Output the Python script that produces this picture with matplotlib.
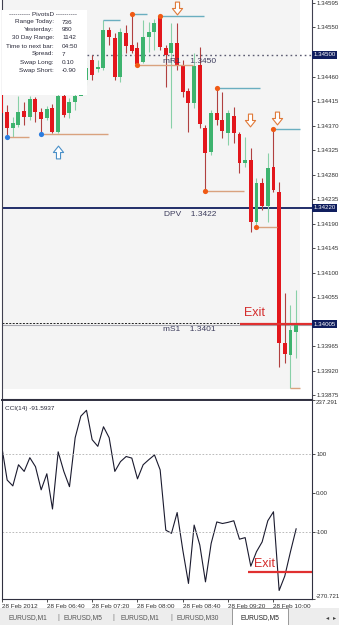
import matplotlib
matplotlib.use("Agg")
import matplotlib.pyplot as plt
import matplotlib.transforms as mtransforms
from matplotlib.patches import Rectangle
from matplotlib.path import Path
import numpy as np

plt.rcParams["font.family"] = ["Liberation Sans", "DejaVu Sans"]

W, H = 339, 625

# ---- EURUSD M5, 28 Feb 2012, bars from 06:00 to 10:20 ----
opens = [1.34439, 1.34395, 1.34365, 1.34371, 1.34397, 1.34386, 1.34419, 1.34395, 1.34384, 1.34402,
         1.34358, 1.34424, 1.34393, 1.34413, 1.34424, 1.34454, 1.34490, 1.34474, 1.34476, 1.34545,
         1.34531, 1.34459, 1.34540, 1.34518, 1.34512, 1.34487, 1.34533, 1.34542, 1.34569, 1.34512,
         1.34503, 1.34522, 1.34481, 1.34433, 1.34411, 1.34481, 1.34365, 1.34321, 1.34393, 1.34380,
         1.34356, 1.34387, 1.34354, 1.34301, 1.34307, 1.34193, 1.34264, 1.34222, 1.34294, 1.34248,
         1.33971, 1.33949, 1.33991]
highs = [1.34444, 1.34408, 1.34386, 1.34424, 1.34413, 1.34424, 1.34422, 1.34402, 1.34406, 1.34410,
         1.34430, 1.34430, 1.34421, 1.34435, 1.34463, 1.34490, 1.34500, 1.34490, 1.34564, 1.34551,
         1.34540, 1.34549, 1.34555, 1.34574, 1.34523, 1.34564, 1.34560, 1.34566, 1.34571, 1.34518,
         1.34558, 1.34558, 1.34490, 1.34439, 1.34503, 1.34514, 1.34371, 1.34399, 1.34438, 1.34432,
         1.34399, 1.34404, 1.34358, 1.34349, 1.34329, 1.34274, 1.34274, 1.34319, 1.34363, 1.34266,
         1.34062, 1.34040, 1.34068]
lows = [1.34384, 1.34349, 1.34349, 1.34367, 1.34371, 1.34380, 1.34376, 1.34355, 1.34380, 1.34356,
        1.34356, 1.34386, 1.34384, 1.34399, 1.34428, 1.34444, 1.34454, 1.34468, 1.34472, 1.34518,
        1.34454, 1.34450, 1.34503, 1.34503, 1.34481, 1.34485, 1.34505, 1.34509, 1.34509, 1.34441,
        1.34365, 1.34472, 1.34422, 1.34358, 1.34402, 1.34365, 1.34250, 1.34316, 1.34371, 1.34347,
        1.34334, 1.34338, 1.34283, 1.34294, 1.34174, 1.34184, 1.34215, 1.34193, 1.34248, 1.33926,
        1.33934, 1.33888, 1.33943]
closes = [1.34393, 1.34365, 1.34375, 1.34395, 1.34386, 1.34419, 1.34395, 1.34382, 1.34400, 1.34358,
          1.34424, 1.34389, 1.34413, 1.34424, 1.34454, 1.34476, 1.34463, 1.34477, 1.34545, 1.34533,
          1.34459, 1.34542, 1.34516, 1.34507, 1.34483, 1.34533, 1.34542, 1.34558, 1.34514, 1.34500,
          1.34522, 1.34479, 1.34432, 1.34411, 1.34479, 1.34373, 1.34319, 1.34393, 1.34380, 1.34360,
          1.34393, 1.34356, 1.34301, 1.34307, 1.34193, 1.34264, 1.34222, 1.34292, 1.34252, 1.33971,
          1.33950, 1.33994, 1.34007]

cci = [123, 33, 18, 72, 55, 90, 67, 8, 49, -41,
       105, 55, 16, 141, 196, 211, 136, 119, 169, 141,
       55, 80, 93, 89, 36, 72, 85, 97, 59, -95,
       -103, -50, -146, -231, -82, -133, -227, -129, -74, -78,
       -75, -71, -118, -114, -187, -150, -125, -71, -48, -249,
       -212, -150, -91.59]

# swing markers (bar index, price, end of the horizontal line)
hi_dot_bars = [23, 28, 38, 48]
hi_dot_prices = [1.34574, 1.34571, 1.34438, 1.34363]
hi_line_ends = [25.7, 35.7, 45.6, 52.7]
lo_dot_bars = [24, 36, 45]
lo_dot_prices = [1.34481, 1.34250, 1.34184]
lo_line_ends = [33.8, 42.8, 48.6]
blue_dot_bars = [1, 7]
blue_dot_prices = [1.34349, 1.34355]
blue_line_ends = [4.9, 18.8]

down_arrow_bars = [31, 43.8, 48.7]
down_arrow_prices = [1.34585, 1.34380, 1.34384]
up_arrow_bars = [10]
up_arrow_prices = [1.34322]

# pivot levels
mR1, DPV, mS1, BID = 1.34500, 1.34219, 1.34003, 1.34008
EXIT_PRICE = 1.34005
EXIT_CCI = -202

price_ticks = [1.34595, 1.34550, 1.34505, 1.34460, 1.34415, 1.34370, 1.34325, 1.34280,
               1.34235, 1.34190, 1.34145, 1.34100, 1.34055, 1.34010, 1.33965, 1.33920, 1.33875]
# these two grid labels sit under the highlighted level boxes
hidden_ticks = [1.34505, 1.34010]
cci_ticks = [237.291, 100, 0, -100, -270.721]
cci_tick_labels = ["237.291", "100", "0.00", "-100", "-270.721"]
time_ticks = [0, 8, 16, 24, 32, 40, 48]
time_labels = ["28 Feb 2012", "28 Feb 06:40", "28 Feb 07:20", "28 Feb 08:00",
               "28 Feb 08:40", "28 Feb 09:20", "28 Feb 10:00"]

info_keys = ["Range Today:", "Yesterday:", "30 Day Range:", "Time to next bar:",
             "Spread:", "Swap Long:", "Swap Short:"]
info_vals = ["736", "980", "1142", "04:50", "7", "0.10", "-0.90"]

tabs = ["EURUSD,M1", "EURUSD,M5", "EURUSD,M1", "EURUSD,M30"]
active_tab = "EURUSD,M5"

RED, GREEN = "#e3161c", "#3db36e"
RED_WICK, GREEN_WICK = "#b04040", "#88d0a8"
ORANGE, BLUE = "#f05a14", "#2b7de0"
TEAL, TAN = "#6aaec0", "#d9a27e"
NAVY = "#101e5e"
TXT = "#2a2a3a"


def fx(px):
    return px / W


def fy(py):
    return 1 - py / H


fig = plt.figure(figsize=(W / 100, H / 100), dpi=100)
fig.patch.set_facecolor("white")

ax = fig.add_axes([fx(1.5), fy(399), fx(312) - fx(1.5), 399 / H])
ax2 = fig.add_axes([fx(1.5), fy(599), fx(312) - fx(1.5), 199 / H])

XL = (0.035, 54.8)

# ---- main price panel ----------------------------------------------------
ax.set_xlim(*XL)
ax.set_ylim(1.338677, 1.346005)
ax.set_facecolor("white")
ax.add_patch(Rectangle((0, 1 - 389 / 399), (300 - 1.5) / 310.5, 389 / 399,
                       transform=ax.transAxes, fc="#f4f4f4", ec="none", zorder=0))

o, h, l, c = map(np.array, (opens, highs, lows, closes))
x = np.arange(len(o))
up = c >= o
ax.vlines(x[up], l[up], h[up], color=GREEN_WICK, lw=0.8, zorder=2)
ax.vlines(x[~up], l[~up], h[~up], color=RED_WICK, lw=0.8, zorder=2)
lo_b = np.minimum(o, c)
hb = np.maximum(np.abs(c - o), 0.00003)
ax.bar(x[up], hb[up], bottom=lo_b[up], width=0.68, color=GREEN, lw=0, zorder=3)
ax.bar(x[~up], hb[~up], bottom=lo_b[~up], width=0.68, color=RED, lw=0, zorder=3)

# levels
ax.axhline(mR1, color="#5a5a70", lw=1.0, ls=(0, (1.2, 2.2)), zorder=1)
ax.axhline(DPV, color=NAVY, lw=1.3, zorder=1)
ax.axhline(mS1, color="#a8a8b0", lw=0.8, zorder=1)
ax.axhline(BID, color="#202020", lw=0.7, ls=(0, (2, 1.5)), zorder=1)
ax.hlines(EXIT_PRICE, 42.1, XL[1], color="#e03030", lw=1.6, zorder=4)
ax.text(42.8, 1.34025, "Exit", color="#d42c2c", fontsize=9, va="center", zorder=6)

ax.text(28.5, 1.34488, "mR1    1.3450", fontsize=6, color="#3c3c5c", va="center", zorder=6)
ax.text(28.7, 1.34206, "DPV    1.3422", fontsize=6, color="#3c3c5c", va="center", zorder=6)
ax.text(28.5, 1.33996, "mS1    1.3401", fontsize=6, color="#3c3c5c", va="center", zorder=6)

# swing lines and dots
ax.hlines(hi_dot_prices, hi_dot_bars, hi_line_ends, color=TEAL, lw=1, zorder=3)
ax.hlines(1.34564, 18, 20.9, color=TEAL, lw=1, zorder=3)
ax.hlines(lo_dot_prices, lo_dot_bars, lo_line_ends, color=TAN, lw=1, zorder=3)
ax.hlines(blue_dot_prices, blue_dot_bars, blue_line_ends, color=TAN, lw=1, zorder=3)
ax.hlines(1.33888, 51, 52.7, color=TAN, lw=1, zorder=3)
ax.scatter(hi_dot_bars, hi_dot_prices, s=14, color=ORANGE, zorder=5, lw=0)
ax.scatter(lo_dot_bars, lo_dot_prices, s=14, color=ORANGE, zorder=5, lw=0)
ax.scatter(blue_dot_bars, blue_dot_prices, s=14, color=BLUE, zorder=5, lw=0)

arrow_v = [(-0.16, 0.5), (0.16, 0.5), (0.16, 0.0), (0.4, 0.0), (0, -0.5),
           (-0.4, 0.0), (-0.16, 0.0), (-0.16, 0.5)]
down_arrow = Path(arrow_v, closed=True)
up_arrow = Path([(a, -b) for a, b in arrow_v], closed=True)
ax.scatter(down_arrow_bars, down_arrow_prices, marker=down_arrow, s=85,
           facecolor="white", edgecolor="#e07a3a", lw=0.8, zorder=5)
ax.scatter(up_arrow_bars, up_arrow_prices, marker=up_arrow, s=85,
           facecolor="white", edgecolor="#4a90c8", lw=0.8, zorder=5)

# info box
ax.add_patch(Rectangle((0, 1 - 95 / 399), (87 - 1.5) / 310.5, 85 / 399,
                       transform=ax.transAxes, fc="white", ec="none", zorder=7))
ax.text(0.134, 1 - 14 / 399, "---------- PivotsD ----------", transform=ax.transAxes,
        fontsize=4.6, color=TXT, ha="center", va="center", zorder=8)
row_y = [22, 29.5, 37.5, 46, 54, 62.5, 70.5]
for k, v, ry in zip(info_keys, info_vals, row_y):
    ax.text(0.169, 1 - ry / 399, k, transform=ax.transAxes, fontsize=4.6,
            color=TXT, ha="right", va="center", zorder=8)
    ax.text(0.195, 1 - ry / 399, v, transform=ax.transAxes, fontsize=4.6,
            color=TXT, ha="left", va="center", zorder=8)

ax.set_xticks([])
ax.yaxis.tick_right()
ax.set_yticks(price_ticks)
ax.set_yticklabels(["" if v in hidden_ticks else f"{v:.5f}" for v in price_ticks])
ax.tick_params(axis="y", length=2, width=0.6, pad=1, labelsize=4.4, colors="#303030")

blend = mtransforms.blended_transform_factory(ax.transAxes, ax.transData)
for val, lab in [(mR1, "1.34500"), (DPV, "1.34220"), (EXIT_PRICE, "1.34005")]:
    ax.text(1.005, val, lab, transform=blend, fontsize=4.4, color="white",
            va="center", ha="left", zorder=9, clip_on=False,
            bbox=dict(boxstyle="square,pad=0.25", fc=NAVY, ec="none"))

for s in ["left", "right", "bottom"]:
    ax.spines[s].set_color("#404050")
    ax.spines[s].set_linewidth(0.8)
ax.spines["top"].set_visible(False)

# ---- CCI panel -----------------------------------------------------------
ax2.set_xlim(*XL)
ax2.set_ylim(-270.721, 237.291)
ax2.plot(x, cci, color="#1a1a2e", lw=0.8)
ax2.axhline(100, color="#b0b0b0", lw=0.6, ls=(0, (2, 2)))
ax2.axhline(-100, color="#b0b0b0", lw=0.6, ls=(0, (2, 2)))
ax2.hlines(EXIT_CCI, 43.5, XL[1], color="#e03030", lw=1.6)
ax2.text(44.6, -181, "Exit", color="#d42c2c", fontsize=9, va="center")
ax2.text(0.01, 0.97, "CCI(14) -91.5937", transform=ax2.transAxes, fontsize=4.6,
         color=TXT, va="top", ha="left")

ax2.yaxis.tick_right()
ax2.set_yticks(cci_ticks)
ax2.set_yticklabels(cci_tick_labels)
ax2.tick_params(axis="y", length=2, width=0.6, pad=1, labelsize=4.4, colors="#303030")
ylabs = ax2.get_yticklabels()
ylabs[0].set_va("top")
ylabs[-1].set_va("bottom")
ax2.set_xticks(time_ticks)
ax2.set_xticklabels(time_labels, ha="left")
ax2.tick_params(axis="x", length=2, width=0.6, pad=1.5, labelsize=4.6, colors="#303030")
for s in ax2.spines.values():
    s.set_color("#303040")
    s.set_linewidth(0.8)
ax2.spines["top"].set_linewidth(1.4)

# ---- terminal tab bar ----------------------------------------------------
fig.add_artist(Rectangle((0, fy(625)), 1, 17 / H, transform=fig.transFigure,
                         fc="#ededed", ec="none"))
fig.add_artist(Rectangle((fx(232), fy(625)), fx(288) - fx(232), 17 / H,
                         transform=fig.transFigure, fc="white", ec="#8a8a8a", lw=0.6))
tab_x = [28, 83, 140, 198]
for tx, name in zip(tab_x, tabs):
    fig.text(fx(tx), fy(617.5), name, fontsize=4.8, color="#555", ha="center", va="center")
for sx in [58, 113, 171]:
    fig.text(fx(sx), fy(617.5), "|", fontsize=5.5, color="#777", ha="center", va="center")
fig.text(fx(260), fy(617.5), active_tab, fontsize=4.8, color="#222", ha="center", va="center")
fig.text(fx(328), fy(617.5), "\u25c2", fontsize=4.5, color="#444", ha="center", va="center",
         family="DejaVu Sans")
fig.text(fx(335), fy(617.5), "\u25b8", fontsize=4.5, color="#444", ha="center", va="center",
         family="DejaVu Sans")

fig.savefig("out.png", dpi=100, facecolor="white")
